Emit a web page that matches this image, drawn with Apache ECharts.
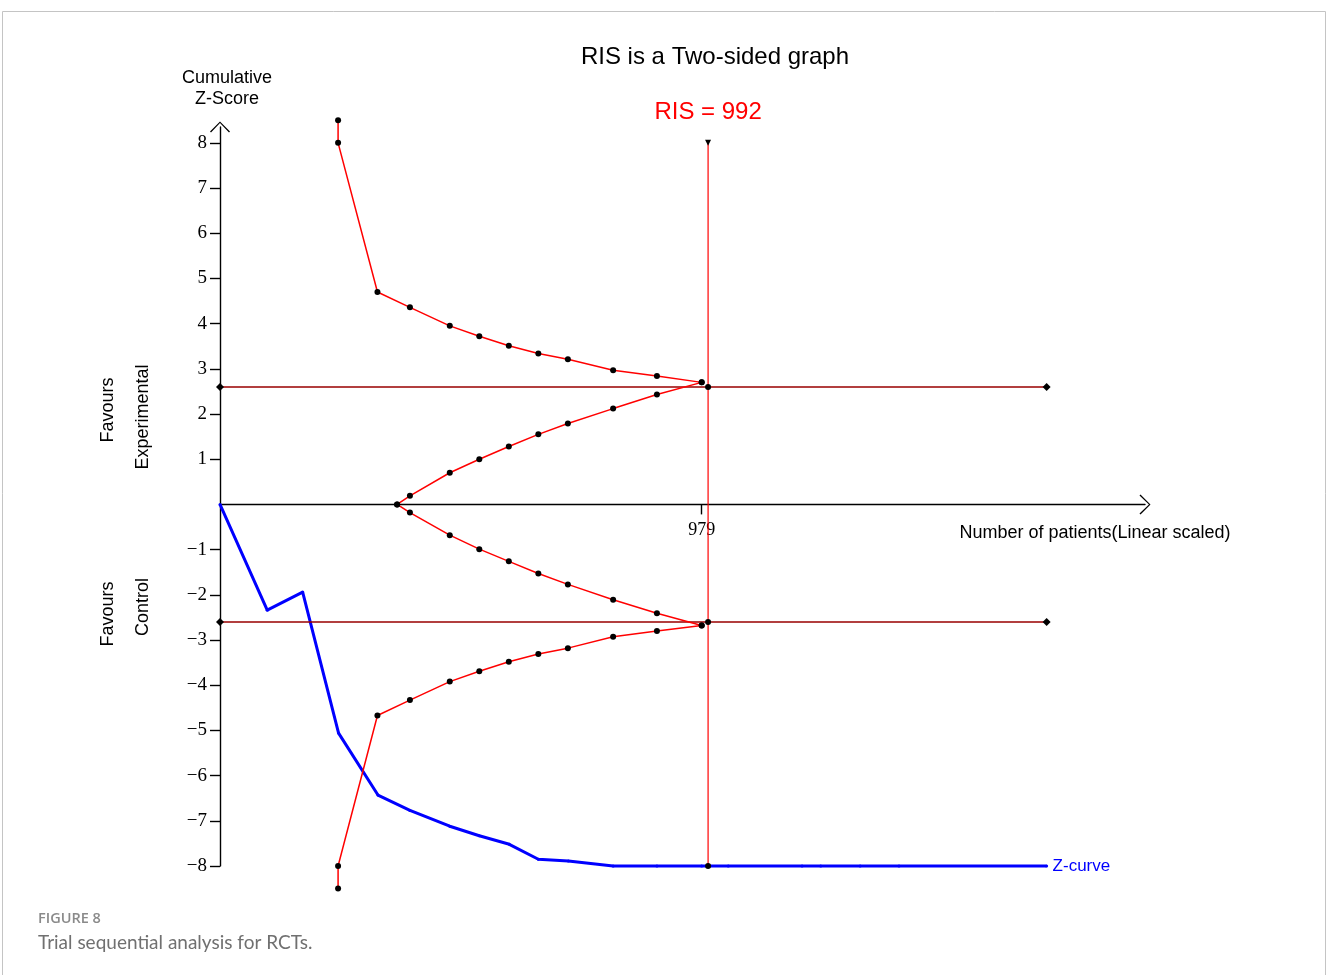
<!DOCTYPE html>
<html>
<head>
<meta charset="utf-8">
<script src="https://cdn.jsdelivr.net/npm/echarts@6/dist/echarts.min.js"></script>
<style>
html,body{margin:0;padding:0;background:#fff;}
#chart{width:1328px;height:975px;}
</style>
</head>
<body>
<div id="chart"></div>
<script>
// ---- Data ----
const titleText = 'RIS is a Two-sided graph';
const risValue = 992;
const xTickValues = [979];
const yTickValues = [-8,-7,-6,-5,-4,-3,-2,-1,1,2,3,4,5,6,7,8];
const yLabelValues = [-8,-7,-6,-5,-4,-3,-2,-1,1,2,3,4,5,6,7,8];

// Alpha-spending (outer) boundaries
const outerN = [240, 240, 320, 386, 467, 527, 587, 647, 707, 799, 888, 979];
const upperOuter = [8.5, 8.0, 4.70, 4.36, 3.95, 3.72, 3.51, 3.34, 3.21, 2.97, 2.84, 2.70];
const lowerOuter = [-8.5, -8.0, -4.67, -4.33, -3.92, -3.69, -3.48, -3.31, -3.18, -2.93, -2.80, -2.68];

// Futility (inner) boundaries
const innerN = [360, 386, 467, 527, 587, 647, 707, 799, 888, 979];
const upperInner = [0, 0.19, 0.70, 1.00, 1.28, 1.55, 1.79, 2.12, 2.43, 2.70];
const lowerInner = [0, -0.18, -0.68, -0.99, -1.26, -1.53, -1.77, -2.11, -2.41, -2.68];

// Conventional boundaries (+/- 2.6)
const convN = [0, 992, 1680];
const convZ = 2.6;

// Z-curve
const zN = [0, 96, 168, 241, 321, 386, 467, 527, 588, 647, 708, 799, 888, 979, 1033, 1183, 1221, 1301, 1380, 1680];
const zVal = [0, -2.34, -1.94, -5.06, -6.43, -6.77, -7.12, -7.33, -7.52, -7.85, -7.89, -8, -8, -8, -8, -8, -8, -8, -8, -8];

// ---- helpers ----
const zip = (a, b) => a.map((v, i) => [v, b[i]]);
const chevron = 'path://M0,0 L10,10 L9,11 L0,1.6 L-9,11 L-10,10 Z';
const RED = '#ff0000';
const serif = '"Liberation Serif", "DejaVu Serif", serif';
const sans = '"Liberation Sans", Arial, sans-serif';

const GRID_TOP = 127, GRID_H = 739, Y_MIN = -8, Y_MAX = 8.35;
// distance from the grid bottom up to the y = 0 line, via the y scale
const zeroOffset = -GRID_H * (0 - Y_MIN) / (Y_MAX - Y_MIN);

const chart = echarts.init(document.getElementById('chart'), null, {renderer: 'canvas'});

const boundaryLine = (name, data) => ({
  name, type: 'line', data, clip: false, z: 3,
  symbol: 'circle', symbolSize: 6, showSymbol: true,
  itemStyle: {color: '#000'},
  lineStyle: {color: RED, width: 1.5},
  emphasis: {disabled: true}
});

const option = {
  animation: false,
  backgroundColor: '#fff',
  grid: {left: 220, top: GRID_TOP, width: 925, height: GRID_H, outerBoundsMode: 'none', containLabel: false},
  xAxis: {
    type: 'value', min: 0, max: 1880, position: 'bottom', offset: zeroOffset,
    axisLine: {onZero: false, lineStyle: {color: '#000', width: 1.4},
      symbol: ['none', chevron], symbolSize: [20, 11]},
    axisTick: {show: true, customValues: xTickValues, length: 10, lineStyle: {color: '#000', width: 1.4}},
    axisLabel: {show: true, customValues: xTickValues, margin: 17, color: '#000', fontFamily: serif, fontSize: 18},
    splitLine: {show: false}
  },
  yAxis: {
    type: 'value', min: Y_MIN, max: Y_MAX,
    axisLine: {onZero: false, lineStyle: {color: '#000', width: 1.4},
      symbol: ['none', chevron], symbolSize: [20, 11]},
    axisTick: {show: true, customValues: yTickValues, length: 10, lineStyle: {color: '#000', width: 1.4}},
    axisLabel: {show: true, customValues: yLabelValues, margin: 13, color: '#000', fontFamily: serif, fontSize: 19,
      formatter: v => String(v).replace('-', '\u2212')},
    splitLine: {show: false}
  },
  series: [
    {
      name: 'Z-curve', type: 'line', data: zip(zN, zVal), clip: false, z: 2,
      symbol: 'circle', symbolSize: 3, showSymbol: true,
      itemStyle: {color: '#0000ff'},
      lineStyle: {color: '#0000ff', width: 3},
      endLabel: {show: true, formatter: 'Z-curve', color: '#0000ff', fontFamily: sans, fontSize: 17, distance: 6},
      emphasis: {disabled: true}
    },
    {
      name: 'Upper conventional', type: 'line', clip: false, z: 3,
      data: convN.map((n, i) => ({value: [n, convZ], symbol: i === 1 ? 'circle' : 'diamond', symbolSize: i === 1 ? 6 : 8})),
      itemStyle: {color: '#000'}, lineStyle: {color: '#990000', width: 1.5}, emphasis: {disabled: true}
    },
    {
      name: 'Lower conventional', type: 'line', clip: false, z: 3,
      data: convN.map((n, i) => ({value: [n, -convZ], symbol: i === 1 ? 'circle' : 'diamond', symbolSize: i === 1 ? 6 : 8})),
      itemStyle: {color: '#000'}, lineStyle: {color: '#990000', width: 1.5}, emphasis: {disabled: true}
    },
    {
      name: 'RIS', type: 'line', clip: false, z: 3,
      data: [
        {value: [risValue, 8], symbol: 'triangle', symbolRotate: 180, symbolSize: 6,
          label: {show: true, position: 'top', distance: 15, formatter: 'RIS = ' + risValue, color: RED, fontFamily: sans, fontSize: 24}},
        {value: [risValue, -8], symbol: 'circle', symbolSize: 6}
      ],
      itemStyle: {color: '#000'}, lineStyle: {color: RED, width: 1.2}, emphasis: {disabled: true}
    },
    boundaryLine('Upper outer', zip(outerN, upperOuter)),
    boundaryLine('Lower outer', zip(outerN, lowerOuter)),
    boundaryLine('Upper inner', zip(innerN, upperInner)),
    boundaryLine('Lower inner', zip(innerN, lowerInner))
  ],
  graphic: [
    {type: 'rect', shape: {x: 2.5, y: 11.5, width: 1323, height: 1000}, style: {fill: 'none', stroke: '#c4c4c4', lineWidth: 1}, silent: true, z: -10},
    {type: 'text', x: 715, y: 57, style: {text: titleText, font: '24px ' + sans, fill: '#000', align: 'center', verticalAlign: 'middle'}},
    {type: 'text', x: 227, y: 78, style: {text: 'Cumulative', font: '18px ' + sans, fill: '#000', align: 'center', verticalAlign: 'middle'}},
    {type: 'text', x: 227, y: 99, style: {text: 'Z-Score', font: '18px ' + sans, fill: '#000', align: 'center', verticalAlign: 'middle'}},
    {type: 'text', x: 1095, y: 533, style: {text: 'Number of patients(Linear scaled)', font: '18px ' + sans, fill: '#000', align: 'center', verticalAlign: 'middle'}},
    {type: 'text', x: 108, y: 410, rotation: Math.PI / 2, style: {text: 'Favours', font: '18px ' + sans, fill: '#000', align: 'center', verticalAlign: 'middle'}},
    {type: 'text', x: 143, y: 417, rotation: Math.PI / 2, style: {text: 'Experimental', font: '18px ' + sans, fill: '#000', align: 'center', verticalAlign: 'middle'}},
    {type: 'text', x: 108, y: 614, rotation: Math.PI / 2, style: {text: 'Favours', font: '18px ' + sans, fill: '#000', align: 'center', verticalAlign: 'middle'}},
    {type: 'text', x: 143, y: 607, rotation: Math.PI / 2, style: {text: 'Control', font: '18px ' + sans, fill: '#000', align: 'center', verticalAlign: 'middle'}},
    {type: 'text', x: 38, y: 919, style: {text: 'FIGURE 8', font: '600 14.5px "Open Sans", sans-serif', fill: '#8a8a8a', align: 'left', verticalAlign: 'middle'}},
    {type: 'text', x: 38, y: 943, style: {text: 'Trial sequential analysis for RCTs.', font: '19px Lato, "Open Sans", sans-serif', fill: '#707070', align: 'left', verticalAlign: 'middle'}}
  ]
};
chart.setOption(option);
</script>
</body>
</html>
